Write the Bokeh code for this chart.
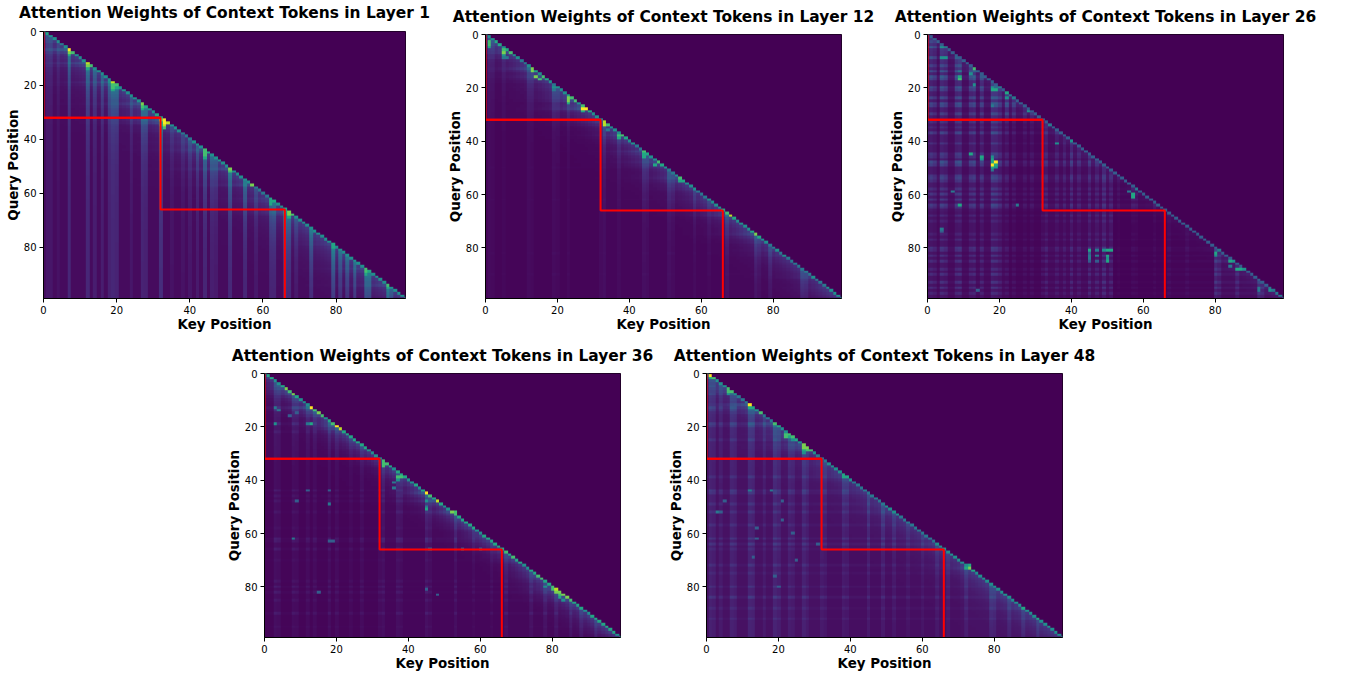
import numpy as np
from bokeh.plotting import figure
from bokeh.layouts import column, row
from bokeh.models import Range1d, FixedTicker, LinearColorMapper, Spacer
from bokeh.palettes import Viridis256
from bokeh.embed import file_html
from bokeh.resources import INLINE

LAYERS = [1, 12, 26, 36, 48]
TICKS = [0, 20, 40, 60, 80]
N = 100
RED_X = [0, 0, 32, 32, 66, 66]
RED_Y = [0, 32, 32, 66, 66, 99]
RED_SEG_X = [0, 32]
RED_SEG_Y = [32, 32]

# Diagonal brightness, tenths of the colour scale, one per row
L1_DIAG = [6,6,5,5,5,4,5,10,7,5,5,5,9,7,5,5,5,5,5,9,7,5,5,5,5,5,5,8,6,5,5,6,6,10,9,5,5,5,4,4,4,5,5,5,7,6,5,5,5,5,5,8,5,5,5,5,5,7,4,4,4,4,6,6,5,5,6,8,7,5,5,5,5,5,5,5,5,5,5,6,5,5,5,5,5,5,5,5,7,6,5,5,5,5,7,5,5,5,5,4]
L12_DIAG = [5,5,5,6,6,5,6,7,5,5,4,4,5,8,6,5,7,6,5,4,5,5,5,6,7,7,5,7,10,6,5,5,5,9,7,5,5,5,7,6,5,5,4,4,7,6,5,5,7,6,5,4,4,5,7,6,5,5,5,4,4,4,5,5,5,5,6,7,9,6,5,5,5,5,6,8,6,5,5,4,4,5,4,5,4,4,4,4,4,4,4,5,4,4,4,5,5,5,5,4]
L26_DIAG = [3,3,3,3,3,4,3,3,3,3,3,3,3,6,3,3,3,3,3,3,4,3,3,4,4,3,3,3,3,3,3,3,3,3,4,3,3,3,3,3,4,3,3,3,3,3,3,3,3,3,3,3,3,3,3,3,3,3,4,3,3,3,3,3,3,3,3,3,3,3,3,3,3,3,3,3,3,3,3,3,3,4,3,3,3,5,3,3,5,3,3,3,3,3,3,4,4,4,4,3]
L36_DIAG = [5,6,6,5,5,6,8,7,8,6,5,5,5,10,7,8,7,5,6,7,10,9,6,6,6,6,6,6,6,5,5,5,5,7,7,6,5,6,6,6,5,5,6,5,6,10,7,6,9,6,5,5,8,7,6,6,6,6,6,5,5,6,6,6,6,6,6,7,6,7,6,6,5,5,6,6,7,7,6,6,7,9,8,8,8,7,6,6,6,5,5,6,6,6,6,6,6,6,5,5]
L48_DIAG = [6,10,7,5,5,5,7,7,5,4,4,4,10,6,5,7,4,4,4,7,6,5,5,7,7,6,5,8,8,7,5,4,4,4,5,5,5,5,6,6,5,4,4,4,4,4,4,4,4,4,5,5,5,5,4,4,4,4,4,4,4,4,4,4,5,5,5,5,5,5,5,5,5,8,6,5,5,5,5,5,5,5,5,5,5,5,5,5,6,5,5,5,6,5,5,5,5,5,5,4]

# Vertical stripes: (key position, strength in tenths)
L1_COLS = [(1,3),(2,3),(4,2),(7,8),(12,8),(14,5),(16,5),(18,6),(19,8),(20,7),(24,3),(27,7),(28,6),(32,10),(35,2),(38,2),(40,3),(42,4),(44,7),(46,5),(47,4),(51,8),(55,7),(58,3),(62,6),(63,6),(66,8),(67,7),(69,3),(73,7),(79,9),(81,6),(83,6),(85,6),(88,8),(89,7),(94,8),(95,4)]
L12_COLS = [(1,5),(2,4),(5,3),(12,5),(13,4),(19,6),(20,4),(23,4),(32,5),(33,6),(37,4),(44,7),(45,5),(51,7),(52,4),(58,4),(62,3),(67,5),(75,6),(76,3),(79,5),(88,6),(89,4)]
L26_COLS = [(0,3),(1,6),(2,4),(4,7),(5,5),(8,6),(9,7),(12,5),(13,6),(15,5),(18,8),(19,7),(20,4),(22,6),(24,4),(27,3),(29,3),(32,5),(33,4),(36,3),(38,3),(40,5),(42,3),(45,4),(47,3),(49,5),(51,3),(53,2),(57,4),(58,3),(63,3),(67,2),(72,2),(80,5),(81,3),(86,3),(92,5),(93,3)]
L36_COLS = [(3,5),(4,4),(8,4),(9,3),(12,3),(14,3),(18,4),(20,3),(24,2),(27,3),(32,3),(33,4),(37,4),(38,3),(45,5),(46,3),(53,4),(58,2),(63,2),(67,3),(74,3),(78,3),(81,3),(85,3),(88,3),(92,3)]
L48_COLS = [(1,5),(2,4),(4,3),(7,5),(8,4),(12,6),(13,5),(16,3),(19,6),(20,4),(23,4),(24,3),(27,5),(28,3),(32,3),(33,3),(38,4),(39,3),(45,4),(49,4),(52,3),(56,2),(60,2),(64,3),(67,3),(72,3),(79,4),(80,3),(84,3),(88,3),(92,3)]

# Horizontal stripes: (query position, strength in tenths)
L1_ROWS = []
L12_ROWS = [(5,2),(9,2),(14,1),(50,1),(62,1),(82,1),(90,1)]
L26_ROWS = [(3,3),(5,6),(9,6),(12,4),(14,6),(16,7),(17,5),(20,6),(21,4),(24,5),(26,6),(27,5),(30,4),(33,3),(35,2),(37,5),(41,3),(45,4),(46,3),(48,7),(49,5),(53,4),(54,5),(55,3),(58,3),(60,4),(62,4),(64,5),(65,3),(68,3),(70,2),(75,2),(77,3),(80,5),(81,4),(83,4),(85,4),(88,3),(90,4),(93,4),(95,4),(97,3)]
L36_ROWS = [(5,2),(13,4),(14,3),(19,4),(22,2),(44,3),(46,2),(48,2),(52,2),(58,1),(62,4),(63,3),(66,3),(70,1),(78,2),(80,3),(82,3),(85,2),(90,3),(95,1)]
L48_ROWS = [(5,3),(8,3),(13,5),(14,3),(19,5),(20,3),(25,3),(32,2),(39,3),(44,5),(45,4),(49,3),(52,3),(57,3),(62,4),(64,4),(66,2),(72,3),(75,2),(80,3),(84,4),(88,2),(92,2)]

# Single cells: (query, key, value in tenths)
L1_HOT = [(7,7,10),(8,7,8),(9,7,6),(12,12,9),(13,12,8),(14,12,6),(19,19,9),(20,19,7),(21,19,7),(22,19,6),(21,20,6),(27,27,8),(28,27,7),(29,27,6),(33,32,8),(34,32,6),(35,32,6),(34,33,10),(35,33,9),(36,33,7),(45,44,7),(46,44,7),(47,44,6),(51,51,8),(52,51,7),(67,67,8),(68,67,8),(69,67,6),(79,79,6),(80,79,6),(88,88,6),(89,88,7),(90,88,6),(94,94,7),(95,94,6),(63,62,6),(64,62,6),(57,57,8)]
L12_HOT = [(3,1,7),(4,1,7),(5,1,6),(6,5,7),(7,5,8),(8,5,5),(9,5,4),(9,6,4),(14,13,8),(16,14,8),(17,15,7),(24,23,8),(25,23,8),(26,23,6),(28,27,10),(29,27,6),(34,33,9),(38,37,7),(39,37,6),(45,44,6),(46,44,6),(48,48,7),(49,47,6),(54,54,7),(55,54,6),(36,34,4),(20,19,5),(21,19,4)]
L26_HOT = [(48,19,10),(49,18,10),(47,18,6),(46,18,5),(48,18,6),(49,19,6),(50,18,6),(50,19,5),(51,18,4),(45,12,6),(46,15,6),(47,15,5),(13,13,7),(16,9,6),(17,9,7),(19,13,5),(21,18,6),(21,19,6),(20,18,5),(22,22,6),(24,22,5),(27,18,4),(29,28,5),(41,36,5),(40,40,5),(64,9,6),(9,4,5),(9,5,5),(5,4,5),(60,57,6),(61,57,6),(59,56,4),(81,45,6),(81,49,5),(81,50,6),(81,51,6),(81,47,4),(82,45,3),(83,45,4),(84,45,4),(85,45,3),(83,50,6),(84,50,5),(85,50,6),(83,47,4),(85,47,3),(82,80,6),(83,80,5),(85,84,6),(88,86,6),(88,87,6),(88,88,5),(95,92,4),(96,92,4),(96,95,5),(87,84,4),(15,12,5),(14,9,4),(73,4,4),(74,4,3),(64,25,4),(59,7,4),(96,14,3)]
L36_HOT = [(13,3,4),(14,4,4),(19,3,5),(19,13,6),(19,12,4),(34,33,7),(35,33,7),(39,37,7),(39,38,7),(39,39,6),(40,37,5),(41,36,4),(43,36,4),(51,45,6),(50,45,4),(48,45,5),(52,53,7),(49,18,4),(48,9,3),(62,8,4),(63,18,3),(63,19,3),(44,18,3),(44,12,3),(81,80,7),(82,81,8),(83,82,7),(84,82,6),(85,83,5),(80,78,5),(82,15,3),(81,45,3),(83,48,3),(66,46,3),(66,55,3),(66,60,3),(15,9,3),(16,7,3)]
L48_HOT = [(2,1,6),(7,6,7),(8,6,5),(13,12,6),(23,22,7),(24,22,7),(24,23,6),(25,24,5),(28,27,8),(29,27,6),(29,28,7),(30,27,5),(39,38,6),(44,12,4),(44,18,4),(48,21,3),(52,3,4),(52,4,3),(58,14,3),(48,5,3),(55,21,3),(69,13,3),(73,72,6),(72,73,6),(62,14,3),(60,24,3),(70,25,3),(76,19,3),(80,20,3),(64,31,3)]

# Darker regions: (first query, last query, first key, last key, share of brightness kept)
L1_DIM = []
L12_DIM = [(33,99,0,32,.7),(67,99,33,66,.8)]
L26_DIM = [(33,99,22,32,.55),(33,99,52,66,.6),(67,99,0,44,.8),(67,99,52,79,.45),(33,66,33,66,.85)]
L36_DIM = [(33,99,0,32,.75),(67,99,33,66,.8)]
L48_DIM = [(67,99,33,70,.85)]

LAYER_DATA = [
    (L1_DIAG, L1_COLS, L1_ROWS, L1_HOT, L1_DIM),
    (L12_DIAG, L12_COLS, L12_ROWS, L12_HOT, L12_DIM),
    (L26_DIAG, L26_COLS, L26_ROWS, L26_HOT, L26_DIM),
    (L36_DIAG, L36_COLS, L36_ROWS, L36_HOT, L36_DIM),
    (L48_DIAG, L48_COLS, L48_ROWS, L48_HOT, L48_DIM),
]

# background, stripe far, stripe near, stripe reach, row weight, cross weight, halo, halo reach
MIX = [
    (.030, .10, .28, 12, .00, .00, .32, 6.0),
    (.020, .04, .20,  8, .02, .10, .34, 5.0),
    (.030, .06, .12, 15, .05, .30, .14, 3.0),
    (.020, .06, .18,  8, .03, .28, .34, 3.5),
    (.045, .09, .16, 12, .05, .24, .28, 5.0),
]

def build(data, mix):
    diag, cols, rows, hot, dim = data
    bg, far, near, reach, rw, cw, halo, hreach = mix
    c = np.zeros(N); r = np.zeros(N)
    for k, s in cols: c[k] = s / 10
    for k, s in rows: r[k] = s / 10
    d = np.asarray(diag) / 10
    ii, jj = np.mgrid[0:N, 0:N]
    dist = ii - jj
    v = (bg + c[jj] * (far + near * np.exp(-np.maximum(dist, 0) / reach))
         + r[ii] * rw + cw * c[jj] * r[ii]
         + halo * d[ii] * np.exp(-np.maximum(dist, 0) / hreach))
    for r0, r1, c0, c1, keep in dim:
        v[r0:r1 + 1, c0:c1 + 1] *= keep
    v[dist < 0] = 0
    v[dist == 0] = d[ii[dist == 0]]
    for i, j, s in hot:
        v[i, j] = max(v[i, j], s / 10)
    return np.clip(v, 0, 1)

mapper = LinearColorMapper(palette=Viridis256, low=0, high=1)

def panel(idx, width, height, left, right, top, bottom, title_standoff, margin=(0, 0, 0, 0)):
    p = figure(width=width, height=height, output_backend="svg", toolbar_location=None,
               x_range=Range1d(0, 99), y_range=Range1d(-99, 0),
               min_border_left=left, min_border_right=right,
               min_border_top=top, min_border_bottom=bottom, margin=margin,
               title=f"Attention Weights of Context Tokens in Layer {LAYERS[idx]}",
               x_axis_label="Key Position", y_axis_label="Query Position", tools="")
    # query positions grow downwards: they are plotted negated, the axis shows them positive
    p.image(image=[np.flipud(build(LAYER_DATA[idx], MIX[idx]))], x=-0.5, y=-99.5, dw=N, dh=N,
            color_mapper=mapper)
    p.line(RED_X, [-y for y in RED_Y], line_color="#ff0000", line_width=2)
    p.line(RED_SEG_X, [-y for y in RED_SEG_Y], line_color="#ff0000", line_width=2)
    p.grid.visible = False
    p.outline_line_color = "black"
    p.title.text_font = "DejaVu Sans"
    p.title.text_font_style = "bold"
    p.title.text_font_size = "15.45px"
    p.title.align = "center"
    p.title.vertical_align = "top"
    p.title.text_color = "black"
    p.title.standoff = title_standoff
    for ax in (p.xaxis[0], p.yaxis[0]):
        ax.minor_tick_line_color = None
        ax.major_tick_in = 0
        ax.major_tick_out = 4
        ax.major_tick_line_color = "black"
        ax.axis_line_color = "black"
        ax.major_label_text_font = "DejaVu Sans"
        ax.major_label_text_font_size = "10px"
        ax.major_label_text_color = "black"
        ax.major_label_standoff = 3
        ax.axis_label_text_font = "DejaVu Sans"
        ax.axis_label_text_font_style = "bold"
        ax.axis_label_text_font_size = "13.4px"
        ax.axis_label_text_color = "black"
        ax.axis_label_standoff = 0
    p.xaxis[0].ticker = FixedTicker(ticks=TICKS)
    p.yaxis[0].ticker = FixedTicker(ticks=[-t for t in TICKS])
    p.yaxis[0].major_label_overrides = {-t: str(t) for t in TICKS}
    return p

p1 = panel(0, 444, 347, 43, 39, 40, 40, 16, margin=(-9, 0, 0, 0))
p2 = panel(1, 441, 344, 41, 44, 40, 40, 14, margin=(-6, 0, 0, 0))
p3 = panel(2, 454, 344, 42, 56, 40, 40, 14, margin=(-6, 0, 0, 0))
p4 = panel(3, 455, 341, 59, 40, 41, 36, 14, margin=(-6, 0, 0, 0))
p5 = panel(4, 445, 341, 46, 43, 41, 36, 14, margin=(-6, 0, 0, 0))

page = column(row(p1, p2, p3), row(Spacer(width=205, height=335), p4, p5))
open("out.html", "w").write(file_html(page, INLINE))
